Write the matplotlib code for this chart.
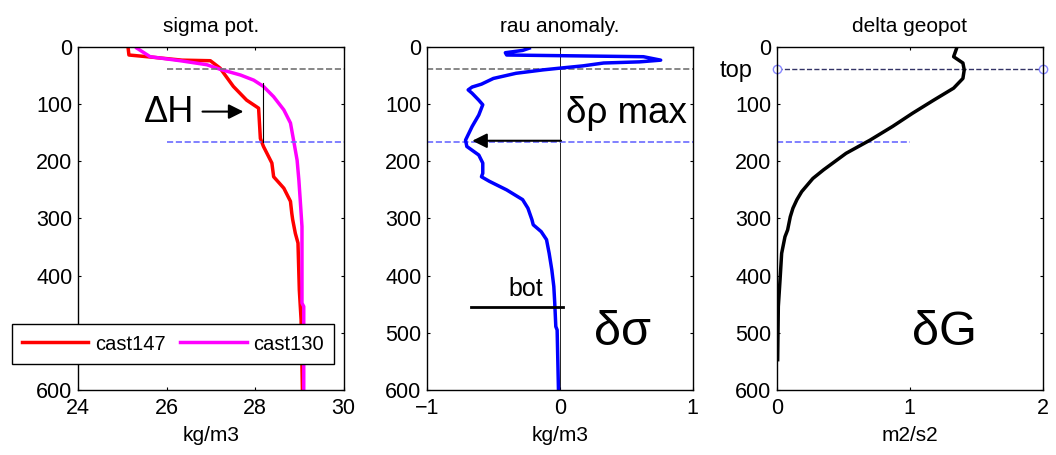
import numpy as np
import matplotlib
matplotlib.use("Agg")
import matplotlib.pyplot as plt

plt.rcParams.update({
    "font.family": ["Liberation Sans", "DejaVu Sans"],
    "font.size": 15,
    "axes.linewidth": 1.0,
})

# cast147 / cast130 potential density (kg/m3) vs depth (m)
depth_147 = [0, 14, 18, 23, 24, 37, 69, 93, 107, 160, 174, 203, 227, 247, 270, 291, 302, 326, 343, 425, 477, 559, 600]
sigma_147 = [25.13, 25.15, 25.70, 26.35, 26.99, 27.21, 27.51, 27.81, 28.08, 28.12, 28.19, 28.38, 28.42,
             28.65, 28.80, 28.83, 28.85, 28.91, 28.97, 29.00, 29.04, 29.06, 29.07]
depth_130 = [2, 17, 24, 31, 39, 49, 58, 69, 87, 110, 133, 163, 198, 233, 267, 314, 448, 454, 600]
sigma_130 = [25.33, 25.63, 26.31, 26.91, 27.21, 27.67, 27.97, 28.19, 28.42, 28.65, 28.80, 28.87,
             28.95, 28.99, 29.02, 29.06, 29.06, 29.10, 29.10]

# density anomaly
depth_rau = [2, 6, 10, 14, 17, 23, 26, 28, 33, 37, 40, 46, 55, 65, 70, 75, 81, 93, 101, 119, 139, 163,
             174, 189, 203, 221, 227, 235, 250, 267, 282, 302, 311, 323, 337, 361, 390, 419, 448, 489,
             495, 600]
rau = [-0.23, -0.28, -0.41, -0.40, 0.63, 0.76, 0.60, 0.33, 0.175, 0.0, -0.125, -0.33, -0.50, -0.59,
       -0.66, -0.69, -0.66, -0.61, -0.58, -0.61, -0.66, -0.71, -0.70, -0.61, -0.58, -0.58, -0.59,
       -0.53, -0.40, -0.28, -0.24, -0.21, -0.20, -0.14, -0.10, -0.08, -0.06, -0.045, -0.038, -0.03,
       -0.02, -0.01]

# delta geopotential
depth_geo = [4, 17, 28, 40, 55, 72, 93, 116, 139, 163, 186, 215, 230, 253, 267, 282, 297, 320, 332,
             361, 407, 454, 547]
geo = [1.35, 1.33, 1.40, 1.41, 1.40, 1.33, 1.18, 1.02, 0.87, 0.70, 0.52, 0.35, 0.27, 0.186, 0.15,
       0.12, 0.10, 0.08, 0.06, 0.035, 0.023, 0.01, 0.005]

z_top = 38.5
z_max = 165.5
z_bot = 454

fig = plt.figure(figsize=(10.56, 4.55), dpi=100)
lefts = [78 / 1056, 427 / 1056, 777 / 1056]
axes = [fig.add_axes([l, 0.1429, 0.2515, 0.7538]) for l in lefts]

for ax in axes:
    ax.set_ylim(600, 0)
    ax.set_yticks(range(0, 601, 100))
    ax.tick_params(direction="in", top=True, right=True, length=2.5, labelsize=15.5)
    ax.tick_params(axis="x", pad=6)
    ax.tick_params(axis="y", pad=4)

# sigma pot.
ax = axes[0]
ax.plot(sigma_147, depth_147, color="red", lw=2.5, label="cast147")
ax.plot(sigma_130, depth_130, color="magenta", lw=2.5, label="cast130")
ax.plot([26, 30], [z_top, z_top], ls="--", color="0.45", lw=1.2)
ax.plot([26, 30], [z_max, z_max], ls="--", color="#6b6bff", lw=1.2)
ax.plot([28.17, 28.17], [63, z_max], color="k", lw=0.8)
ax.annotate("", xy=(27.8, 113), xytext=(26.75, 113),
            arrowprops=dict(arrowstyle="-|>", color="k", lw=1.5, mutation_scale=22))
ax.text(26.05, 115, "ΔH", fontsize=26, ha="center", va="center")
ax.set_xlim(24, 30)
ax.set_xticks([24, 26, 28, 30])
ax.set_title("sigma pot.", fontsize=15, pad=11)
ax.set_xlabel("kg/m3", fontsize=15, labelpad=5)
fig.legend(loc="center", bbox_to_anchor=(173 / 1056, 1 - 344 / 455), ncol=2, fontsize=14.5,
           frameon=True, fancybox=False, edgecolor="k", framealpha=1, handlelength=3.3,
           handletextpad=0.35, columnspacing=0.7, borderpad=0.5)

# rau anomaly
ax = axes[1]
ax.plot([0, 0], [0, 600], color="k", lw=0.6)
ax.plot([-1, 1], [z_top, z_top], ls="--", color="0.45", lw=1.2)
ax.plot([-1, 1], [z_max, z_max], ls="--", color="#6b6bff", lw=1.2)
ax.plot(rau, depth_rau, color="blue", lw=2.5)
ax.annotate("", xy=(-0.68, 164), xytext=(0.03, 164),
            arrowprops=dict(arrowstyle="-|>", color="k", lw=1.5, mutation_scale=22))
ax.text(0.05, 116, "δρ max", fontsize=26.5, ha="left", va="center")
ax.plot([-0.67, 0.025], [z_bot, z_bot], color="k", lw=2)
ax.text(-0.26, 424, "bot", fontsize=18, ha="center", va="center")
ax.text(0.47, 500, "δσ", fontsize=35, ha="center", va="center")
ax.set_xlim(-1, 1)
ax.set_xticks([-1, 0, 1])
ax.set_title("rau anomaly.", fontsize=15, pad=11)
ax.set_xlabel("kg/m3", fontsize=15, labelpad=5)

# delta geopot
ax = axes[2]
ax.plot([0, 2], [z_top, z_top], ls="--", color="#333366", lw=1.0, marker="o",
        markersize=6, markerfacecolor="white", markeredgecolor="#8888ff", clip_on=False)
ax.plot([0, 1], [z_max, z_max], ls="--", color="#6b6bff", lw=1.2)
ax.plot(geo, depth_geo, color="k", lw=2.5)
ax.text(-0.31, 42, "top", fontsize=17, ha="center", va="center")
ax.text(1.26, 500, "δG", fontsize=35, ha="center", va="center")
ax.set_xlim(0, 2)
ax.set_xticks([0, 1, 2])
ax.set_title("delta geopot", fontsize=15, pad=11)
ax.set_xlabel("m2/s2", fontsize=15, labelpad=5)

fig.savefig("out.png", dpi=100)
